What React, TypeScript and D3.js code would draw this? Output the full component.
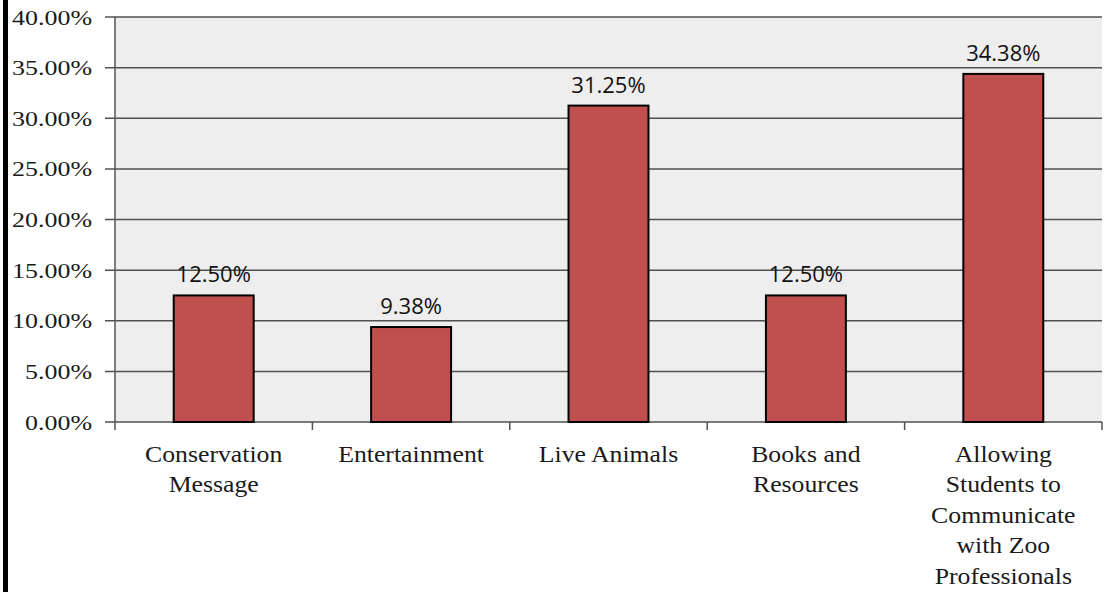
import React from "react";
import * as d3 from "d3";

const categories: string[][] = [
  ["Conservation", "Message"],
  ["Entertainment"],
  ["Live Animals"],
  ["Books and", "Resources"],
  ["Allowing", "Students to", "Communicate", "with Zoo", "Professionals"],
];
const values: number[] = [12.5, 9.38, 31.25, 12.5, 34.38];
const valueLabels: string[] = ["12.50%", "9.38%", "31.25%", "12.50%", "34.38%"];
const yTicks: number[] = [0, 5, 10, 15, 20, 25, 30, 35, 40];

const W = 1107;
const H = 592;
const left = 115;
const right = 1102;
const top = 17;
const bottom = 422;

export default function App() {
  const idx = categories.map((_, i) => String(i));
  const xCat = d3.scaleBand<string>().domain(idx).range([left, right]).padding(0);
  const x = d3
    .scaleBand<string>()
    .domain(idx)
    .range([left, right])
    .paddingInner(0.595)
    .paddingOuter(0.2975);
  const y = d3.scaleLinear().domain([0, 40]).range([bottom, top]);
  const serif = "'Liberation Serif', 'Times New Roman', serif";
  const sans = "'Open Sans', 'Liberation Sans', sans-serif";
  const boundaries = [...idx.map((d) => xCat(d) as number), right];

  return (
    <svg
      width={W}
      height={H}
      style={{ position: "absolute", left: 0, top: 0, background: "#fff" }}
    >
      <rect x={3} y={0} width={5} height={H} fill="#000" />
      <rect x={left} y={top} width={right - left} height={bottom - top} fill="#eeeeee" />
      {yTicks.map((t) => (
        <line
          key={"g" + t}
          x1={left - 10}
          x2={right}
          y1={y(t)}
          y2={y(t)}
          stroke="#505050"
          strokeWidth={1.5}
        />
      ))}
      <line x1={left} x2={left} y1={top} y2={bottom} stroke="#555" strokeWidth={1.5} />
      {boundaries.map((b, i) => (
        <line key={"xt" + i} x1={b} x2={b} y1={bottom} y2={bottom + 8} stroke="#505050" strokeWidth={1.5} />
      ))}
      {yTicks.map((t) => (
        <g key={"yl" + t} transform={`translate(92,${y(t) + 7.5}) scale(1.18,1)`}>
          <text x={0} y={0} textAnchor="end" fontFamily={serif} fontSize={22} fill="#1a1a1a">
            {t.toFixed(2) + "%"}
          </text>
        </g>
      ))}
      {values.map((v, i) => (
        <rect
          key={"b" + i}
          x={x(String(i)) as number}
          y={y(v)}
          width={x.bandwidth()}
          height={bottom - y(v)}
          fill="#c0504d"
          stroke="#000"
          strokeWidth={2}
        />
      ))}
      {values.map((v, i) => (
        <text
          key={"v" + i}
          x={(x(String(i)) as number) + x.bandwidth() / 2}
          y={y(v) - 13}
          textAnchor="middle"
          fontFamily={sans}
          fontSize={22}
          fill="#111"
        >
          {valueLabels[i]}
        </text>
      ))}
      {categories.map((lines, i) => (
        <g
          key={"xl" + i}
          transform={`translate(${(xCat(String(i)) as number) + xCat.bandwidth() / 2},0) scale(1.12,1)`}
        >
          {lines.map((ln, j) => (
            <text
              key={j}
              x={0}
              y={462 + j * 30.4}
              textAnchor="middle"
              fontFamily={serif}
              fontSize={23}
              fill="#1a1a1a"
            >
              {ln}
            </text>
          ))}
        </g>
      ))}
    </svg>
  );
}
